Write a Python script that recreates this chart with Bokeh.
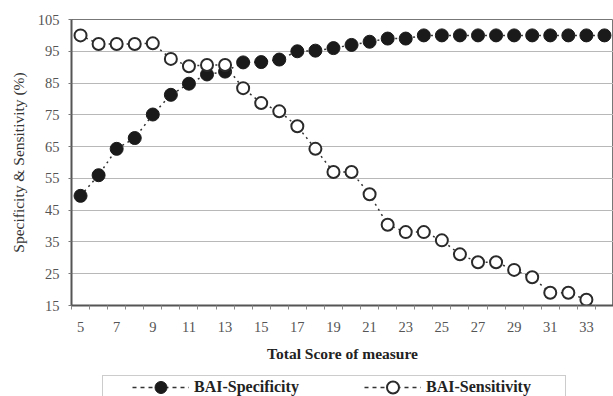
from bokeh.plotting import figure
from bokeh.models import Range1d, FixedTicker, Legend, LegendItem, ColumnDataSource
from bokeh.layouts import column
from bokeh.embed import file_html
from bokeh.resources import INLINE

# ---- data ----
scores_spec = [5, 6, 7, 8, 9, 10, 11, 12, 13, 14, 15, 16, 17, 18, 19, 20, 21, 22, 23,
               24, 25, 26, 27, 28, 29, 30, 31, 32, 33, 34]
specificity = [49.5, 56.0, 64.3, 67.7, 75.1, 81.3, 84.8, 87.7, 88.6, 91.5, 91.6, 92.4,
               95.0, 95.2, 96.0, 97.0, 98.0, 99.0, 99.0,
               100, 100, 100, 100, 100, 100, 100, 100, 100, 100, 100]
scores_sens = [5, 6, 7, 8, 9, 10, 11, 12, 13, 14, 15, 16, 17, 18, 19, 20, 21, 22, 23,
               24, 25, 26, 27, 28, 29, 30, 31, 32, 33]
sensitivity = [100, 97.3, 97.3, 97.3, 97.5, 92.6, 90.3, 90.7, 90.7, 83.4, 78.7, 76.1,
               71.4, 64.3, 57.0, 57.0, 50.0, 40.4, 38.1, 38.1, 35.5, 31.1, 28.6, 28.6,
               26.2, 23.9, 19.0, 19.0, 16.8]
x_tick_labels = [5, 7, 9, 11, 13, 15, 17, 19, 21, 23, 25, 27, 29, 31, 33]
y_ticks = [15, 25, 35, 45, 55, 65, 75, 85, 95, 105]
series_names = ["BAI-Specificity", "BAI-Sensitivity"]

SERIF = "Liberation Serif"
LINE_KW = dict(line_color="#333333", line_width=1.5, line_dash="2 4")
LEG_LINE_KW = dict(line_color="#333333", line_width=1.5, line_dash="4 4")
SPEC_KW = dict(marker="circle", fill_color="#1a1a1a", line_color="#1a1a1a", line_width=1)
SENS_KW = dict(marker="circle", fill_color="white", line_color="#2a2a2a", line_width=2)

p = figure(width=613, height=368, output_backend="svg", toolbar_location=None,
           x_range=Range1d(scores_spec[0] - 0.5, scores_spec[-1] + 0.5),
           y_range=Range1d(y_ticks[0], y_ticks[-1]),
           min_border_left=71, min_border_right=0, min_border_top=19,
           min_border_bottom=63)
p.background_fill_color = "white"
p.border_fill_color = "white"
p.outline_line_color = "#777777"
p.outline_line_width = 1

# grid
p.xgrid.visible = False
p.ygrid.ticker = FixedTicker(ticks=y_ticks)
p.ygrid.grid_line_color = "#b8b8b8"
p.ygrid.grid_line_width = 1

# x axis
bounds = [s - 0.5 for s in scores_spec] + [scores_spec[-1] + 0.5]
xa = p.xaxis[0]
xa.ticker = FixedTicker(ticks=x_tick_labels, minor_ticks=bounds)
xa.axis_label = "Total Score of measure"
xa.axis_line_color = "#555555"
xa.axis_line_width = 2
xa.major_tick_line_color = None
xa.major_tick_out = 0
xa.major_tick_in = 0
xa.minor_tick_line_color = "#888888"
xa.minor_tick_out = 4
xa.minor_tick_in = 0
xa.major_label_text_font = SERIF
xa.major_label_text_font_size = "14.5px"
xa.major_label_text_color = "#555555"
xa.major_label_standoff = 12
xa.axis_label_text_font = SERIF
xa.axis_label_text_font_size = "15.5px"
xa.axis_label_text_font_style = "bold"
xa.axis_label_text_color = "#222222"
xa.axis_label_standoff = 10

# y axis
ya = p.yaxis[0]
ya.ticker = FixedTicker(ticks=y_ticks)
ya.axis_label = "Specificity & Sensitivity (%)"
ya.axis_line_color = "#555555"
ya.axis_line_width = 2
ya.major_tick_line_color = "#777777"
ya.major_tick_out = 3
ya.major_tick_in = 0
ya.minor_tick_line_color = None
ya.major_label_text_font = SERIF
ya.major_label_text_font_size = "14.5px"
ya.major_label_text_color = "#555555"
ya.major_label_standoff = 9
ya.axis_label_text_font = SERIF
ya.axis_label_text_font_size = "15.5px"
ya.axis_label_text_font_style = "normal"
ya.axis_label_text_color = "#333333"
ya.axis_label_standoff = 8

src_spec = ColumnDataSource(dict(x=scores_spec, y=specificity))
src_sens = ColumnDataSource(dict(x=scores_sens, y=sensitivity))

p.line("x", "y", source=src_spec, **LINE_KW)
p.scatter("x", "y", source=src_spec, size=13, **SPEC_KW)
p.line("x", "y", source=src_sens, **LINE_KW)
p.scatter("x", "y", source=src_sens, size=12, **SENS_KW)

# ---- legend strip below the chart (series drawn out of view, used only as legend proxies) ----
q = figure(width=613, height=28, output_backend="svg", toolbar_location=None,
           x_range=Range1d(-2, -1), y_range=Range1d(-2, -1),
           x_axis_location=None, y_axis_location=None,
           min_border_left=0, min_border_right=0, min_border_top=0, min_border_bottom=0)
q.xgrid.visible = False
q.ygrid.visible = False
q.outline_line_color = None
q.background_fill_color = "white"
q.border_fill_color = "white"

ql1 = q.line("x", "y", source=src_spec, **LEG_LINE_KW)
qm1 = q.scatter("x", "y", source=src_spec, **SPEC_KW)
ql2 = q.line("x", "y", source=src_sens, **LEG_LINE_KW)
qm2 = q.scatter("x", "y", source=src_sens, **SENS_KW)
dummy = q.scatter("x", "y", source=src_spec, marker="circle", fill_alpha=0, line_alpha=0)

box = Legend(items=[LegendItem(label=" ", renderers=[dummy])],
             location=(31, -21), padding=0, glyph_width=1, glyph_height=40,
             label_standoff=1, label_width=460, label_height=40,
             border_line_color="#999999", border_line_width=1.5,
             background_fill_color="white", background_fill_alpha=1,
             label_text_font_size="1px")
q.add_layout(box, "center")

items = Legend(items=[LegendItem(label=series_names[0], renderers=[ql1, qm1]),
                      LegendItem(label=series_names[1], renderers=[ql2, qm2])],
               location=(61, -6), orientation="horizontal", padding=0,
               glyph_width=57, glyph_height=30, label_standoff=5, label_width=108,
               spacing=62, border_line_color=None, background_fill_alpha=0,
               label_text_font=SERIF, label_text_font_size="16px",
               label_text_font_style="bold", label_text_color="#222222")
q.add_layout(items, "center")

layout = column(p, q, spacing=0)
open("out.html", "w").write(file_html(layout, INLINE))
